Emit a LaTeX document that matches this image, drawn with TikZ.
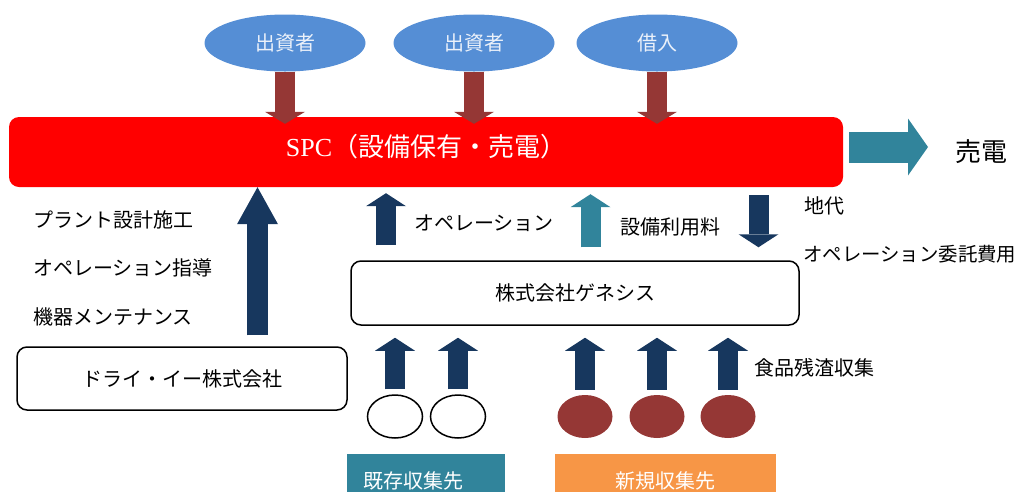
\documentclass[tikz,border=0pt]{standalone}
\usepackage{fontspec}
\setmainfont{Noto Sans CJK JP}
\newfontfamily\latinserif{Liberation Serif}
\usetikzlibrary{shapes.geometric,arrows.meta}
\definecolor{funderblue}{HTML}{558ED5}
\definecolor{fundbrown}{HTML}{953735}
\definecolor{spcred}{HTML}{FF0000}
\definecolor{flowteal}{HTML}{31849B}
\definecolor{flownavy}{HTML}{17375E}
\definecolor{srcorange}{HTML}{F79646}

\begin{document}
\begin{tikzpicture}[x=1pt,y=1pt,
  jp/.style={font=\fontsize{20}{24}\selectfont},
  txt/.style={jp,inner sep=0pt,anchor=west},
  funder/.style={ellipse,jp,fill=funderblue,text=white!88!funderblue,minimum width=161pt,minimum height=57pt,inner sep=0pt},
  firm/.style={jp,draw,line width=1.5pt,rounded corners=10pt,inner sep=0pt},
  oldsite/.style={ellipse,draw,line width=1.5pt,fill=white,minimum width=55pt,minimum height=43pt,inner sep=0pt},
  newsite/.style={ellipse,fill=fundbrown,minimum width=55pt,minimum height=43pt,inner sep=0pt},
  srcbox/.style={jp,text=white,minimum height=54pt,inner xsep=16pt,inner ysep=0pt},
  fundflow/.style={draw=fundbrown,line width=20pt,-{Triangle[width=40pt,length=12pt,line width=0pt]}},
  navyflow/.style={draw=flownavy,line width=20pt,-{Triangle[width=40pt,length=13pt,line width=0pt]}},
  tealflow/.style={draw=flowteal,line width=20pt,-{Triangle[width=40pt,length=13pt,line width=0pt]}},
  saleflow/.style={draw=flowteal,line width=31pt,-{Triangle[width=57pt,length=20pt,line width=0pt]}},
  liftflow/.style={draw=flownavy,line width=21pt,-{Triangle[width=41pt,length=37pt,line width=0pt]}}]
\useasboundingbox (0,0) rectangle (1021,-491);
\clip (0,0) rectangle (1021,-491);

% investors and loan
\node[funder] (inv1) at (285,-43) {出資者};
\node[funder] (inv2) at (474,-43) {出資者};
\node[funder] (loan) at (657,-43) {借入};

% SPC
\node[jp,fill=spcred,rounded corners=10pt,minimum width=834pt,minimum height=70pt,inner sep=0pt,text=white,
  text height=22pt,text depth=14pt,font=\fontsize{26}{30}\selectfont] (spc) at (426,-152) {{\latinserif SPC}（設備保有・売電）};
\node[txt,font=\fontsize{26}{30}\selectfont] (sale) at (955,-152) {売電};

\foreach \f in {inv1,inv2,loan}
  \draw[fundflow] (\f.south) -- ([yshift=-7pt]spc.north -| \f.south);
\draw[saleflow] ([shift={(6pt,5pt)}]spc.east) -- ([shift={(-27pt,5pt)}]sale.west);

% companies
\node[firm,minimum width=330pt,minimum height=63pt] (dry) at (182,-378.5) {ドライ・イー株式会社};
\node[firm,minimum width=448pt,minimum height=64pt] (gen) at (575,-293) {株式会社ゲネシス};

\coordinate (liftbase) at ([shift={(75.5pt,11pt)}]dry.north);
\draw[liftflow] (liftbase) -- (liftbase |- spc.south);
\draw[navyflow] ([shift={(-189pt,15pt)}]gen.north) -- ([shift={(-40pt,-6pt)}]spc.south);
\draw[tealflow] ([shift={(15.5pt,13pt)}]gen.north) -- ([shift={(164.5pt,-7pt)}]spc.south);
\draw[navyflow] ([shift={(332.5pt,-8pt)}]spc.south) -- ([shift={(183.5pt,13pt)}]gen.north);

\node[txt] (design) at (33,-220) {プラント設計施工};
\node[txt] (guide) at (33,-268) {オペレーション指導};
\node[txt] (maint) at (33,-317) {機器メンテナンス};
\node[txt] (oplabel) at (414,-223) {オペレーション};
\node[txt] (feelabel) at (620,-227) {設備利用料};
\node[txt] (rentlabel) at (804,-206) {地代};
\node[txt,font=\fontsize{19.4}{24}\selectfont] (commlabel) at (803,-254) {オペレーション委託費用};
\node[txt] (foodlabel) at (754,-368) {食品残渣収集};

% collection sites
\node[oldsite] (old1) at (395,-416.5) {};
\node[oldsite] (old2) at (458,-416.5) {};
\node[newsite] (new1) at (585,-416.5) {};
\node[newsite] (new2) at (657,-416.5) {};
\node[newsite] (new3) at (728,-416.5) {};
\foreach \s in {old1,old2,new1,new2,new3}
  \draw[navyflow] ([yshift=5pt]\s.north) -- ([yshift=-12pt]gen.south -| \s.north);

\node[srcbox,fill=flowteal,text width=126pt,align=left] (oldsrc) at (426,-481) {既存収集先};
\node[srcbox,fill=srcorange,text width=189pt,align=center] (newsrc) at (665.5,-481) {新規収集先};
\end{tikzpicture}
\end{document}
